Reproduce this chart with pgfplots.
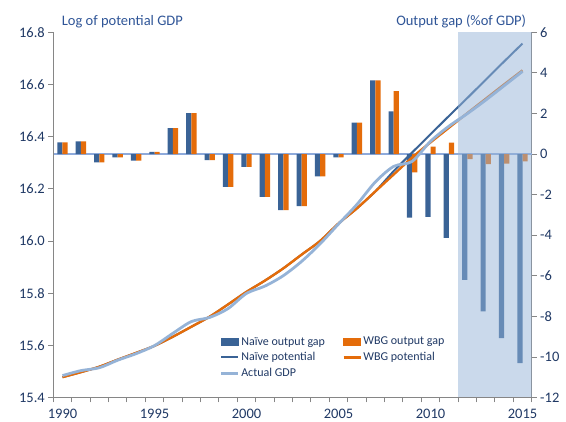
\documentclass[border=0pt]{standalone}
\usepackage{fontspec}
\setmainfont{Carlito}
\usepackage{pgfplots}
\usepackage{pgfplotstable}
\pgfplotsset{compat=1.18}
\usetikzlibrary{calc}

\definecolor{naive}{HTML}{3A6396}
\definecolor{wbg}{HTML}{E46C0A}
\definecolor{actual}{HTML}{95B3D7}
\definecolor{zeroc}{HTML}{8EAADB}
\definecolor{shadec}{HTML}{95B3D7}
\definecolor{axisgray}{HTML}{868686}
\definecolor{navy}{HTML}{1F3864}
\definecolor{titleblue}{HTML}{2F5597}

% output gaps, % of GDP (right axis)
\pgfplotstableread{
year naive wbg
1990 0.57 0.57
1991 0.62 0.62
1992 -0.41 -0.41
1993 -0.17 -0.17
1994 -0.33 -0.33
1995 0.11 0.11
1996 1.28 1.28
1997 2.01 2.01
1998 -0.30 -0.30
1999 -1.62 -1.62
2000 -0.63 -0.63
2001 -2.11 -2.11
2002 -2.77 -2.77
2003 -2.57 -2.57
2004 -1.10 -1.10
2005 -0.17 -0.17
2006 1.55 1.55
2007 3.63 3.63
2008 2.10 3.10
2009 -3.14 -0.91
2010 -3.10 0.36
2011 -4.13 0.56
2012 -6.20 -0.25
2013 -7.75 -0.50
2014 -9.07 -0.47
2015 -10.30 -0.36
}\gaps

% log levels (left axis)
\pgfplotstableread{
year naivepot wbgpot actual
1990 15.478 15.478 15.484
1991 15.497 15.497 15.503
1992 15.518 15.518 15.514
1993 15.545 15.545 15.543
1994 15.571 15.571 15.568
1995 15.598 15.598 15.599
1996 15.633 15.633 15.646
1997 15.671 15.671 15.691
1998 15.710 15.710 15.707
1999 15.757 15.757 15.741
2000 15.805 15.805 15.799
2001 15.848 15.848 15.827
2002 15.895 15.895 15.867
2003 15.948 15.948 15.922
2004 16.000 16.000 15.989
2005 16.067 16.067 16.065
2006 16.125 16.125 16.140
2007 16.190 16.190 16.226
2008 16.268 16.255 16.286
2009 16.339 16.320 16.305
2010 16.409 16.378 16.382
2011 16.479 16.434 16.440
2012 16.548 16.490 16.488
2013 16.618 16.545 16.540
2014 16.688 16.600 16.595
2015 16.757 16.654 16.650
}\levels

\pgfplotsset{
  base/.style={
    width=478.4pt, height=365.2pt, scale only axis,
    xmin=1989.5, xmax=2015.5,
    axis line style={draw=axisgray, line width=0.8pt},
    tick style={draw=axisgray, line width=0.8pt},
    tick align=outside, major tick length=5pt,
    ticklabel style={font=\fontsize{14.5}{16}\selectfont, text=navy},
  },
}

\begin{document}
\begin{tikzpicture}
% bars on the right axis
\begin{axis}[base,
  axis x line=none,
  axis y line*=right,
  ymin=-12, ymax=6,
  ytick={-12,-10,-8,-6,-4,-2,0,2,4,6},
  yticklabels={-12,-10,-8,-6,-4,-2,0,2,4,6},
  extra y ticks={0}, extra y tick labels={},
  extra y tick style={grid=major, major grid style={draw=zeroc, line width=1.5pt}, major tick length=0pt},
  ybar=0pt, bar width=5.2pt,
]
\addplot[fill=naive, draw=none] table[x=year, y=naive] {\gaps};
\addplot[fill=wbg, draw=none] table[x=year, y=wbg] {\gaps};
\end{axis}

% lines on the left axis
\begin{axis}[base, name=ax,
  axis x line*=bottom,
  axis y line*=left,
  ymin=15.4, ymax=16.8,
  ytick={15.4,15.6,15.8,16.0,16.2,16.4,16.6,16.8},
  yticklabels={15.4,15.6,15.8,16.0,16.2,16.4,16.6,16.8},
  xtick={1989.5,1990.5,...,2015.5}, xticklabels={},
  extra x ticks={1990,1995,2000,2005,2010,2015},
  extra x tick labels={1990,1995,2000,2005,2010,2015},
  extra x tick style={major tick length=0pt, tick label style={yshift=-8pt}},
  legend columns=2,
  legend cell align=left,
  legend image code/.code={\draw[#1] (0pt,0pt) -- (17pt,0pt);},
  legend style={at={(0.348,0.170)}, anchor=north west, draw=none, fill=none,
    inner sep=0pt, font=\fontsize{12}{14}\selectfont, text=navy,
    row sep=3pt, nodes={inner sep=1.5pt},
    /tikz/every even column/.append style={column sep=16pt}},
]
\addlegendimage{legend image code/.code={\fill[naive] (0pt,-3.5pt) rectangle (17pt,3.5pt);}}
\addlegendentry{Naïve output gap}
\addlegendimage{legend image code/.code={\fill[wbg] (0pt,-3.5pt) rectangle (17pt,3.5pt);}}
\addlegendentry{WBG output gap}
\addplot[naive, line width=2pt, smooth, no marks] table[x=year, y=naivepot] {\levels};
\addlegendentry{Naïve potential}
\addplot[wbg, line width=2.4pt, smooth, no marks] table[x=year, y=wbgpot] {\levels};
\addlegendentry{WBG potential}
\addplot[actual, line width=2.8pt, smooth, no marks] table[x=year, y=actual] {\levels};
\addlegendentry{Actual GDP}
% forecast shading
\addplot[fill=shadec, fill opacity=0.5, draw=none, forget plot]
  coordinates {(2011.5,15.4) (2015.5,15.4) (2015.5,16.8) (2011.5,16.8)} -- cycle;
\end{axis}

\node[anchor=base west, font=\fontsize{14.5}{16}\selectfont, text=titleblue]
  at ($(ax.north west)+(5pt,6.6pt)$) {Log of potential GDP};
\node[anchor=base east, font=\fontsize{14.5}{16}\selectfont, text=titleblue]
  at ($(ax.north east)+(-2pt,6.6pt)$) {Output gap (\%of GDP)};
\path ($(ax.south west)+(-53.3pt,-24.5pt)$) rectangle ($(ax.north east)+(34.3pt,32.3pt)$);
\end{tikzpicture}
\end{document}
